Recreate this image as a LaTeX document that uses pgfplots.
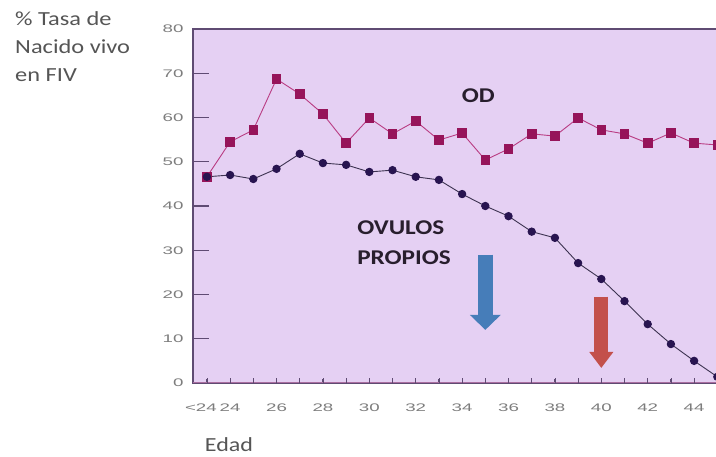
\documentclass[border=0pt]{standalone}
\usepackage{pgfplots}
\pgfplotsset{compat=1.18}
\usepackage{fontspec}
\setmainfont{Carlito}
\newfontfamily\tickfont{Liberation Sans}
\usetikzlibrary{arrows.meta}
\definecolor{bgcol}{RGB}{229,208,243}
\definecolor{odmark}{RGB}{150,20,90}
\definecolor{odline}{RGB}{185,60,130}
\definecolor{ovmark}{RGB}{40,20,80}
\definecolor{ovline}{RGB}{60,50,80}
\definecolor{axcol}{RGB}{95,75,115}
\definecolor{xaxcol}{RGB}{170,110,160}
\definecolor{tickcol}{RGB}{125,125,125}
\definecolor{txtcol}{RGB}{40,30,45}
\definecolor{labcol}{RGB}{85,85,85}
\definecolor{bluearr}{RGB}{70,125,185}
\definecolor{redarr}{RGB}{195,80,75}
\newcommand\tk[1]{\scalebox{1.7}[1]{#1}}
\begin{document}
\begin{tikzpicture}[x=1pt,y=1pt]
\path[use as bounding box] (0,0) rectangle (716,457);
\begin{axis}[
  at={(193pt,74pt)}, anchor=south west,
  scale only axis, width=530pt, height=354pt,
  xmin=22.4, xmax=45.245, ymin=0, ymax=80,
  axis line style={draw=axcol, line width=1.4pt},
  axis background/.style={fill=bgcol},
  xtick pos=bottom, ytick pos=left,
  tick align=inside,
  major tick length=4pt,
  every tick/.style={draw=axcol, line width=0.9pt},
  xtick={23,...,45},
  xticklabels={{\tk{<24}\kern12pt},\tk{24},,\tk{26},,\tk{28},,\tk{30},,\tk{32},,\tk{34},,\tk{36},,\tk{38},,\tk{40},,\tk{42},,\tk{44},},
  ytick={0,10,...,80},
  yticklabel={\tk{\pgfmathprintnumber{\tick}}},
  /pgf/number format/assume math mode=true,
  ticklabel style={font=\tickfont\fontsize{11}{12}\selectfont, text=tickcol},
  xticklabel style={yshift=-17pt},
  yticklabel style={xshift=-6pt},
]
\draw[draw=xaxcol, line width=1.4pt] (rel axis cs:0,0) -- (rel axis cs:1,0);
% OD (ovodonacion)
\addplot[odline, line width=0.9pt, mark=square*, mark size=4.3pt,
  mark options={draw=odmark, fill=odmark}] coordinates {
  (23,46.6) (24,54.5) (25,57.2) (26,68.7) (27,65.3) (28,60.8) (29,54.2)
  (30,59.9) (31,56.3) (32,59.2) (33,54.9) (34,56.5) (35,50.4) (36,52.9)
  (37,56.3) (38,55.8) (39,59.9) (40,57.2) (41,56.3) (42,54.2) (43,56.5)
  (44,54.2) (45,53.8)};
% Ovulos propios
\addplot[ovline, line width=0.9pt, mark=*, mark size=3.7pt,
  mark options={draw=ovmark, fill=ovmark}] coordinates {
  (23,46.6) (24,47.0) (25,46.1) (26,48.4) (27,51.8) (28,49.7) (29,49.3)
  (30,47.7) (31,48.1) (32,46.6) (33,45.9) (34,42.7) (35,40.0) (36,37.7)
  (37,34.2) (38,32.8) (39,27.1) (40,23.5) (41,18.5) (42,13.3) (43,8.8)
  (44,5.0) (45,1.4)};
\draw[bluearr, line width=15pt, -{Triangle[width=30pt,length=15pt]}]
  (axis cs:35,29) -- (axis cs:35,12);
\draw[redarr, line width=14pt, -{Triangle[width=23pt,length=16pt]}]
  (axis cs:40,19.5) -- (axis cs:40,3.4);
\node[font=\bfseries\fontsize{21}{25}\selectfont, text=txtcol, xscale=1.2]
  at (axis cs:34.7,64.9) {OD};
\node[font=\bfseries\fontsize{21}{30}\selectfont, text=txtcol, align=left,
  anchor=west, inner sep=0pt, xscale=1.2]
  at (axis cs:29.47,31.7) {OVULOS\\PROPIOS};
\end{axis}
% axis tick marks (decoration only)
\foreach \i in {1,...,7} \draw[axcol, line width=1.1pt] (193,74+\i*44.25) -- ++(16,0);
\foreach \i in {0,...,22} \draw[axcol, line width=1pt] (207.1+\i*23.2,74) -- ++(0,5);
\node[anchor=north west, inner sep=0pt, align=left, text=labcol,
  font=\fontsize{20}{28}\selectfont, xscale=1.22] at (15,446)
  {\% Tasa de\\Nacido vivo\\en FIV};
\node[text=labcol, font=\fontsize{20}{24}\selectfont, xscale=1.2] at (229,12) {Edad};
\end{tikzpicture}
\end{document}
